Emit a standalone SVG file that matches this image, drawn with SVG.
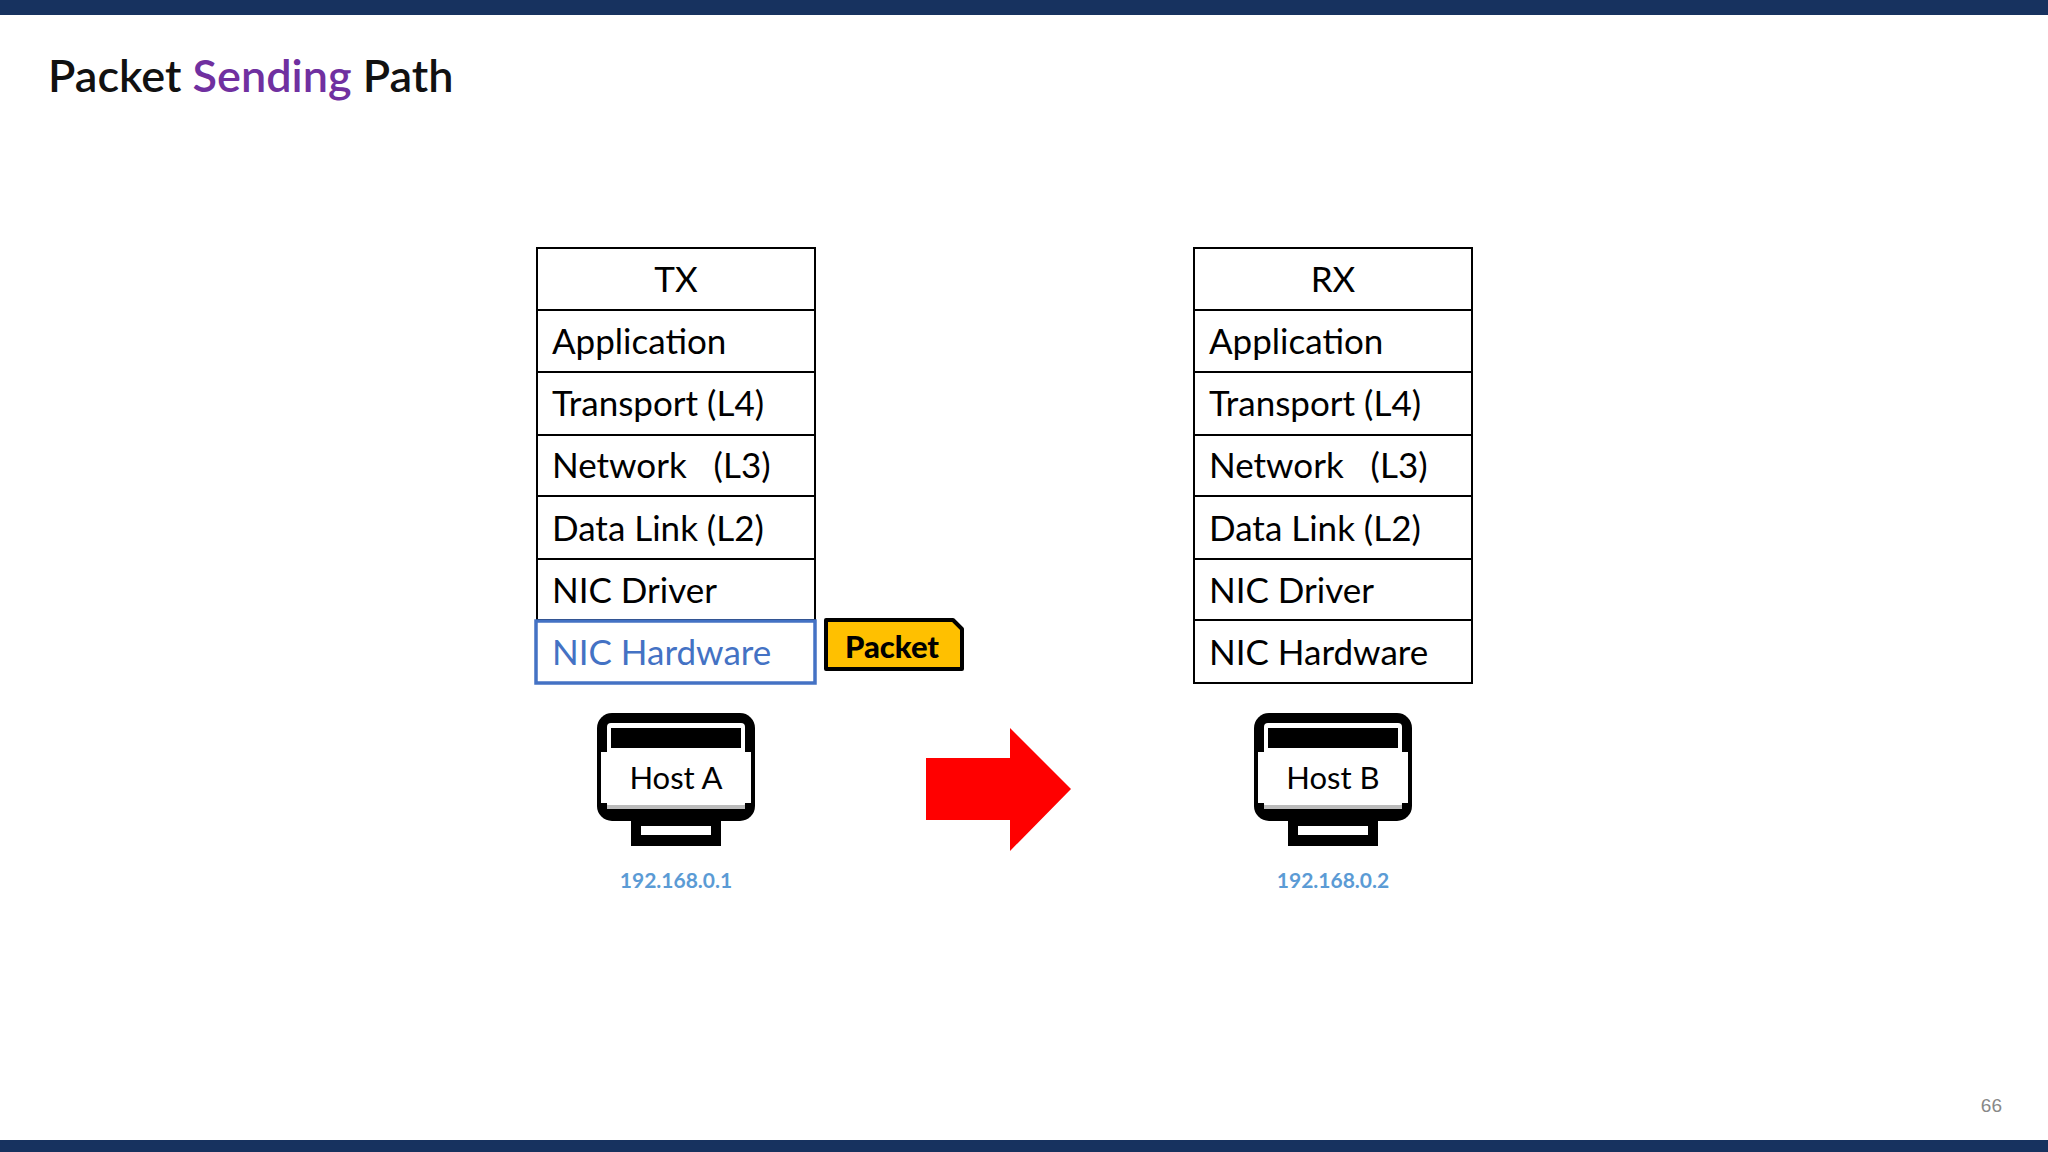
<svg xmlns="http://www.w3.org/2000/svg" width="2048" height="1152" viewBox="0 0 2048 1152">
<defs>
<style>
.bar{fill:#17325F}
.cell{fill:#fff;stroke:#000;stroke-width:2}
.lt{font-family:Lato,"Open Sans",sans-serif;font-size:35px;fill:#000}
.blue{fill:#4472C4}
.hl{fill:#fff;stroke:#4472C4;stroke-width:3.5}
.ip{font-family:Lato,"Liberation Sans",sans-serif;font-weight:bold;font-size:21px;fill:#5B9BD5;text-anchor:middle}
.host{font-family:Lato,"Open Sans",sans-serif;font-size:31px;fill:#000;text-anchor:middle}
</style>
<g id="monitor">
<rect x="597" y="713" width="158" height="108" rx="15" fill="#000"/>
<rect x="607" y="723" width="138" height="85" rx="4" fill="#fff"/>
<rect x="611" y="728" width="130" height="20" fill="#000"/>
<rect x="601" y="752" width="150" height="51" fill="#fff"/>
<rect x="607" y="805" width="138" height="4" fill="#bbb"/>
<rect x="631" y="821" width="90" height="25" fill="#000"/>
<rect x="641" y="826" width="70" height="9" fill="#fff"/>
<rect x="650" y="811" width="52" height="14" fill="#000"/>
</g>
</defs>
<rect width="2048" height="1152" fill="#fff"/>
<rect class="bar" x="0" y="0" width="2048" height="15"/>
<rect class="bar" x="0" y="1140" width="2048" height="12"/>
<text x="48" y="92" font-family="Lato,Open Sans,sans-serif" font-weight="600" font-size="45" fill="#111">Packet <tspan fill="#7030A0">Sending</tspan> Path</text>
<text x="2002" y="1112" font-family="Liberation Sans,Arial,sans-serif" font-size="19" fill="#888" text-anchor="end">66</text>

<g id="tx-stack">
<rect class="cell" x="537" y="248" width="278" height="62"/>
<rect class="cell" x="537" y="310" width="278" height="62"/>
<rect class="cell" x="537" y="372" width="278" height="63"/>
<rect class="cell" x="537" y="435" width="278" height="61"/>
<rect class="cell" x="537" y="496" width="278" height="63"/>
<rect class="cell" x="537" y="559" width="278" height="61"/>
<rect class="hl" x="536" y="621" width="279" height="62"/>
<text class="lt" x="676" y="292" text-anchor="middle">TX</text>
<text class="lt" x="552" y="354">Application</text>
<text class="lt" x="552" y="416">Transport (L4)</text>
<text class="lt" x="552" y="478" xml:space="preserve">Network   (L3)</text>
<text class="lt" x="552" y="541">Data Link (L2)</text>
<text class="lt" x="552" y="603">NIC Driver</text>
<text class="lt blue" x="552" y="665">NIC Hardware</text>
</g>

<g id="rx-stack">
<rect class="cell" x="1194" y="248" width="278" height="62"/>
<rect class="cell" x="1194" y="310" width="278" height="62"/>
<rect class="cell" x="1194" y="372" width="278" height="63"/>
<rect class="cell" x="1194" y="435" width="278" height="61"/>
<rect class="cell" x="1194" y="496" width="278" height="63"/>
<rect class="cell" x="1194" y="559" width="278" height="61"/>
<rect class="cell" x="1194" y="620" width="278" height="63"/>
<text class="lt" x="1333" y="292" text-anchor="middle">RX</text>
<text class="lt" x="1209" y="354">Application</text>
<text class="lt" x="1209" y="416">Transport (L4)</text>
<text class="lt" x="1209" y="478" xml:space="preserve">Network   (L3)</text>
<text class="lt" x="1209" y="541">Data Link (L2)</text>
<text class="lt" x="1209" y="603">NIC Driver</text>
<text class="lt" x="1209" y="665">NIC Hardware</text>
</g>

<g id="packet">
<path d="M826 620 H953 L962 629 V669 H826 Z" fill="#FFC000" stroke="#000" stroke-width="4" stroke-linejoin="round"/>
<text x="892" y="658" font-family="Lato,Open Sans,sans-serif" font-weight="900" font-size="31" text-anchor="middle" fill="#000">Packet</text>
</g>

<g id="host-a">
<use href="#monitor"/>
<text class="host" x="676" y="789">Host A</text>
<text class="ip" x="676" y="888">192.168.0.1</text>
</g>
<g id="host-b">
<use href="#monitor" x="657"/>
<text class="host" x="1333" y="789">Host B</text>
<text class="ip" x="1333" y="888">192.168.0.2</text>
</g>

<g id="connectors">
<path d="M926 758 H1010 V728 L1071 789 L1010 851 V820 H926 Z" fill="#FF0000"/>
</g>
</svg>
